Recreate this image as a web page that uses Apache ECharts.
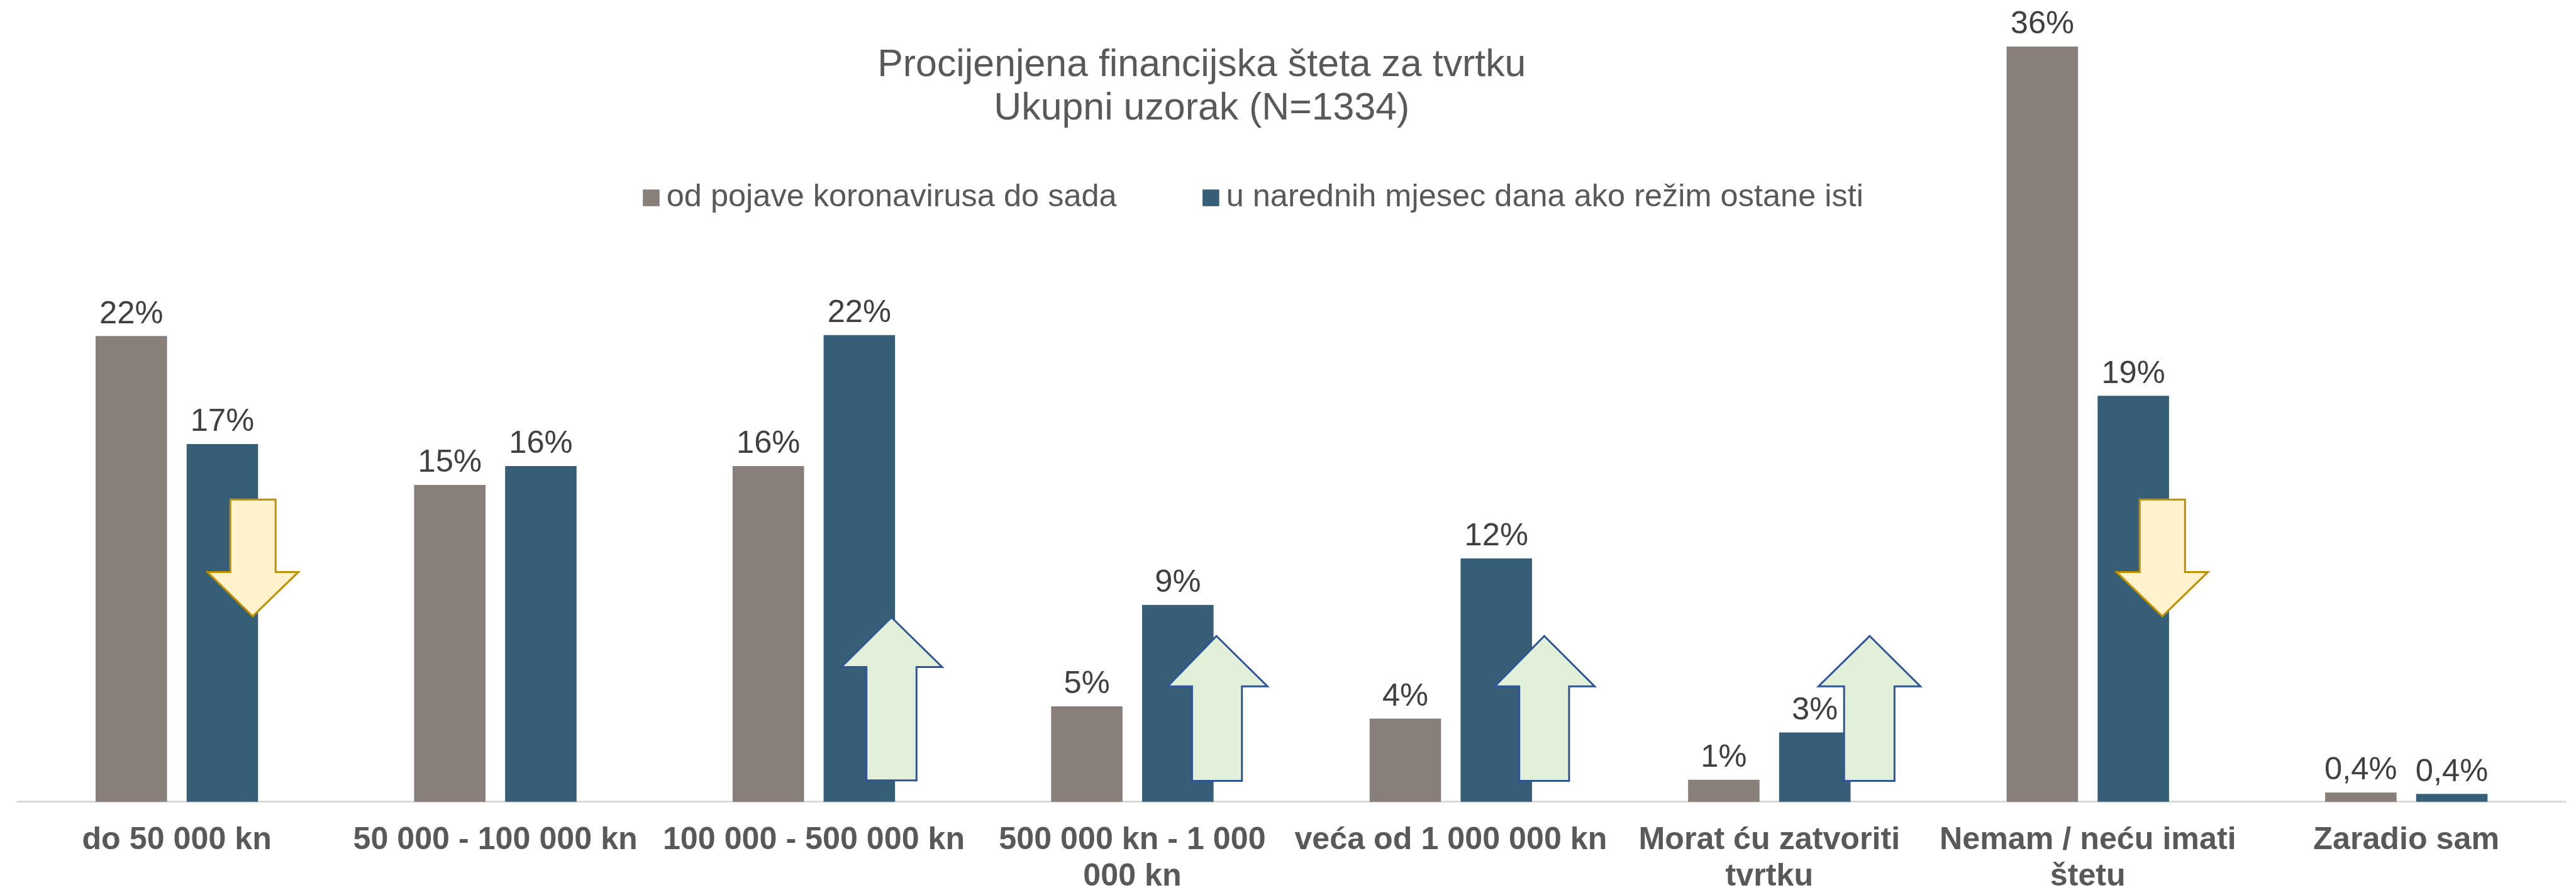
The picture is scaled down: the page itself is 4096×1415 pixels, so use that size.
<!DOCTYPE html>
<html><head><meta charset="utf-8">
<style>html,body{margin:0;padding:0;background:#fff}#c{width:4096px;height:1415px}</style>
<script src="https://cdn.jsdelivr.net/npm/echarts@6/dist/echarts.min.js"></script>
</head><body><div id="c"></div>
<script>
const categories = ['do 50 000 kn','50 000 - 100 000 kn','100 000 - 500 000 kn','500 000 kn - 1 000\n000 kn','veća od 1 000 000 kn','Morat ću zatvoriti\ntvrtku','Nemam / neću imati\nštetu','Zaradio sam'];
const seriesNames = ['od pojave koronavirusa do sada','u narednih mjesec dana ako režim ostane isti'];
const doSada = [22.2,15.1,16.0,4.55,3.96,1.05,36,0.44];
const narednih = [17.05,16.0,22.24,9.38,11.6,3.3,19.35,0.37];
const doSadaLabels = ['22%','15%','16%','5%','4%','1%','36%','0,4%'];
const narednihLabels = ['17%','16%','22%','9%','12%','3%','19%','0,4%'];
const titleText = 'Procijenjena financijska šteta za tvrtku\nUkupni uzorak (N=1334)';
const S = 4096/4322;
const F = 'Liberation Sans, Arial, sans-serif';

function down(l,r,hl,hr,tx,top,sh,tip){return [[l,top],[r,top],[r,sh],[hr,sh],[tx,tip],[hl,sh],[l,sh]];}
function up(l,r,hl,hr,tx,tip,sh,bot){return [[tx,tip],[hr,sh],[r,sh],[r,bot],[l,bot],[l,sh],[hl,sh]];}
const arrow=(pts,fill,stroke)=>({type:'polygon',z:100,shape:{points:pts.map(p=>[p[0]*S,p[1]*S])},style:{fill,stroke,lineWidth:3,lineJoin:'miter'}});
const Y='#FFF2CC',YS='#BF9000',G='#E2F0D9',GS='#2F5597';
const graphics=[
 arrow(down(386.5,462.4,348,500.6,424,838,959.6,1034),Y,YS),
 arrow(down(3590,3666,3551,3704.5,3628,838,959.6,1034),Y,YS),
 arrow(up(1453.7,1537.7,1411.7,1580.7,1495.7,1035.7,1119,1309.3),G,GS),
 arrow(up(2000,2083.7,1959,2126.5,2041,1067,1151.5,1310),G,GS),
 arrow(up(2549,2632.6,2508,2675.5,2591,1067,1151.5,1310),G,GS),
 arrow(up(3094,3178.6,3051,3222,3137,1067,1151.5,1310),G,GS)
];
const lbl=arr=>({show:true,position:'top',distance:9,color:'#404040',fontFamily:F,fontSize:53.5*S,
  formatter:p=>arr[p.dataIndex]});
const chart=echarts.init(document.getElementById('c'),null,{renderer:'canvas'});
chart.setOption({
 animation:false,
 backgroundColor:'#fff',
 title:{text:titleText,left:2011*S,top:68*S,textAlign:'center',
  textStyle:{color:'#595959',fontFamily:F,fontWeight:'normal',fontSize:64.2*S,lineHeight:73*S}},
 legend:{left:1078.6*S,top:305*S,itemWidth:28*S,itemHeight:28*S,itemGap:144*S,padding:0,icon:'rect',
  textStyle:{color:'#595959',fontFamily:F,fontSize:53.3*S,padding:[0,0,0,6]},
  data:seriesNames},
 grid:{left:29.5*S,top:78*S,width:4275*S,height:1267*S,containLabel:false,outerBoundsMode:'none'},
 xAxis:{type:'category',data:categories,
  axisLine:{lineStyle:{color:'#D9D9D9',width:3}},axisTick:{show:false},
  axisLabel:{interval:0,color:'#595959',fontFamily:F,fontWeight:'bold',fontSize:53*S,lineHeight:61*S,margin:34.5*S}},
 yAxis:{type:'value',min:0,max:36,show:false,splitLine:{show:false}},
 series:[
  {name:seriesNames[0],type:'bar',data:doSada,barGap:'27.4%',barCategoryGap:'49%',itemStyle:{color:'#887E7A'},label:lbl(doSadaLabels)},
  {name:seriesNames[1],type:'bar',data:narednih,itemStyle:{color:'#365E77'},label:lbl(narednihLabels)}
 ],
 graphic:graphics
});
</script></body></html>
